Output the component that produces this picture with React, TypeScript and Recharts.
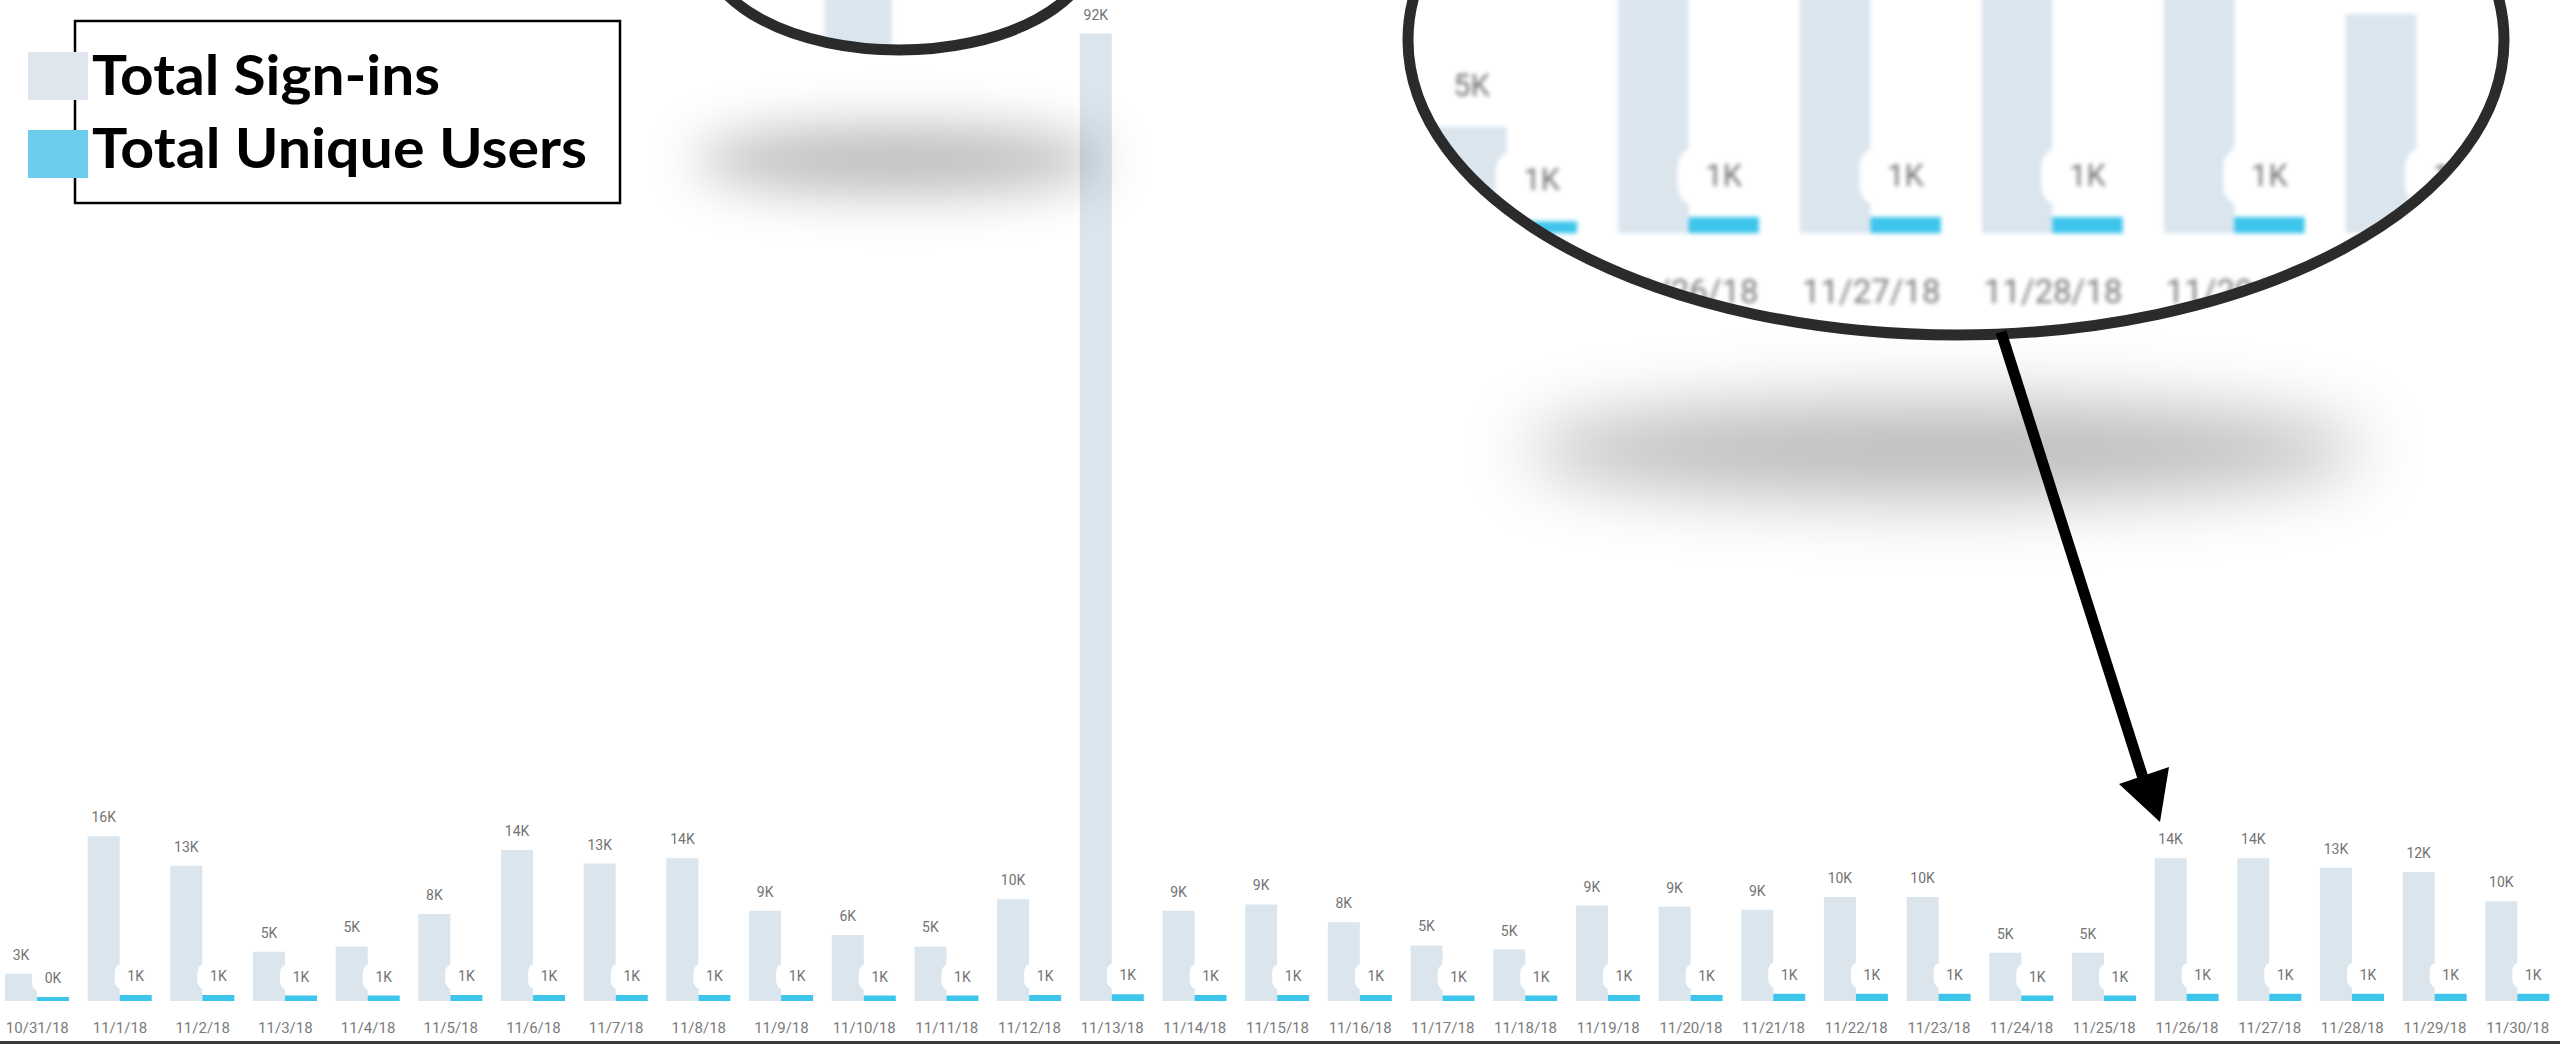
import { BarChart, Bar, XAxis, YAxis, LabelList } from 'recharts';

const dates = [
  '10/31/18', '11/1/18', '11/2/18', '11/3/18', '11/4/18', '11/5/18', '11/6/18', '11/7/18',
  '11/8/18', '11/9/18', '11/10/18', '11/11/18', '11/12/18', '11/13/18', '11/14/18', '11/15/18',
  '11/16/18', '11/17/18', '11/18/18', '11/19/18', '11/20/18', '11/21/18', '11/22/18', '11/23/18',
  '11/24/18', '11/25/18', '11/26/18', '11/27/18', '11/28/18', '11/29/18', '11/30/18',
];

const totalSignIns = [
  2600, 15700, 12900, 4700, 5200, 8300, 14400, 13100,
  13600, 8600, 6300, 5200, 9700, 92200, 8600, 9200,
  7500, 5300, 4900, 9100, 9000, 8700, 9900, 9900,
  4600, 4600, 13600, 13600, 12700, 12300, 9500,
];

const totalUniqueUsers = [
  380, 580, 580, 520, 520, 570, 580, 580,
  580, 570, 520, 520, 580, 640, 580, 570,
  570, 520, 520, 580, 570, 700, 700, 700,
  520, 520, 700, 700, 700, 700, 700,
];

const seriesNames = ['Total Sign-ins', 'Total Unique Users'];

const SIGNIN_COLOR = '#DAE5EE';
const USERS_COLOR = '#3EC5EB';

const chartData = dates.map((date, i) => ({
  date,
  signIns: totalSignIns[i],
  users: totalUniqueUsers[i],
}));

const fmtK = (v: number) => `${Math.round(v / 1000)}K`;

// value label with a white pill behind it
function ValueLabel(props: any) {
  const { x, y, width, value } = props;
  const cx = Number(x) + Number(width) / 2;
  const top = Number(y);
  return (
    <g>
      <rect x={cx - 21} y={top - 32} width={42} height={27} rx={9} fill="#fff" />
      <text
        x={cx}
        y={top - 14}
        textAnchor="middle"
        fontSize={14}
        fontFamily="Roboto, sans-serif"
        fill="#737373"
      >
        {fmtK(Number(value))}
      </text>
    </g>
  );
}

function SignInChart() {
  return (
    <BarChart
      width={2563}
      height={1044}
      data={chartData}
      margin={{ top: 0, right: 0, bottom: 0, left: 0 }}
      barSize={32}
      barGap={0}
    >
      <XAxis
        dataKey="date"
        axisLine={false}
        tickLine={false}
        height={43}
        tickMargin={15}
        interval={0}
        tick={{ fill: '#7b7b7b', fontSize: 15, fontFamily: 'Roboto, sans-serif' }}
      />
      <YAxis hide domain={[0, 95400]} />
      <Bar dataKey="signIns" name={seriesNames[0]} fill={SIGNIN_COLOR} isAnimationActive={false}>
        <LabelList dataKey="signIns" content={ValueLabel} />
      </Bar>
      <Bar dataKey="users" name={seriesNames[1]} fill={USERS_COLOR} isAnimationActive={false}>
        <LabelList dataKey="users" content={ValueLabel} />
      </Bar>
    </BarChart>
  );
}

interface LensProps {
  cx: number;
  cy: number;
  rx: number;
  ry: number;
  zoom: number;
  tx: number;
  ty: number;
}

// magnified copy of the chart, clipped to an ellipse with a dark rim
function Lens({ cx, cy, rx, ry, zoom, tx, ty }: LensProps) {
  const clip = `ellipse(${rx}px ${ry}px at ${cx}px ${cy}px)`;
  return (
    <>
      <div
        style={{
          position: 'absolute',
          left: 0,
          top: 0,
          width: 2560,
          height: 1044,
          clipPath: clip,
          background: '#fff',
        }}
      >
        <div
          style={{
            position: 'absolute',
            left: 0,
            top: 0,
            transformOrigin: '0 0',
            transform: `translate(${tx}px, ${ty}px) scale(${zoom})`,
            filter: 'blur(0.9px)',
          }}
        >
          <div style={{ position: 'absolute', left: -4, top: 0 }}>
            <SignInChart />
          </div>
        </div>
      </div>
      <svg
        width={2560}
        height={1044}
        style={{ position: 'absolute', left: 0, top: 0, filter: 'blur(0.7px)' }}
      >
        <ellipse cx={cx} cy={cy} rx={rx} ry={ry} fill="none" stroke="#2b2b2b" strokeWidth={11} />
      </svg>
    </>
  );
}

function Shadow({ x, y, w, h, blur }: { x: number; y: number; w: number; h: number; blur: number }) {
  return (
    <div
      style={{
        position: 'absolute',
        left: x - w / 2,
        top: y - h / 2,
        width: w,
        height: h,
        borderRadius: '50%',
        background: 'rgba(0,0,0,0.27)',
        filter: `blur(${blur}px)`,
      }}
    />
  );
}

function LegendBox() {
  return (
    <svg width={700} height={230} style={{ position: 'absolute', left: 0, top: 0 }}>
      <rect x={75} y={21} width={545} height={182} fill="#fff" stroke="#000" strokeWidth={2.5} />
      <rect x={28} y={52} width={60} height={48} fill="#DFE6EE" />
      <rect x={28} y={130} width={60} height={48} fill="#6DCDEC" />
      <text
        x={92}
        y={95}
        fontFamily="Lato, 'Open Sans', sans-serif"
        fontWeight={700}
        fontSize={56}
        fill="#000"
        textLength={348}
        lengthAdjust="spacingAndGlyphs"
      >
        {seriesNames[0]}
      </text>
      <text
        x={92}
        y={168}
        fontFamily="Lato, 'Open Sans', sans-serif"
        fontWeight={700}
        fontSize={56}
        fill="#000"
        textLength={495}
        lengthAdjust="spacingAndGlyphs"
      >
        {seriesNames[1]}
      </text>
    </svg>
  );
}

export default function App() {
  return (
    <div
      style={{
        position: 'fixed',
        left: 0,
        top: 0,
        width: 2560,
        height: 1044,
        overflow: 'hidden',
        background: '#fff',
      }}
    >
      <div style={{ position: 'absolute', left: -4, top: 0 }}>
        <SignInChart />
      </div>

      <Shadow x={1945} y={450} w={840} h={96} blur={34} />
      <Shadow x={900} y={160} w={410} h={66} blur={26} />

      <Lens cx={899} cy={-55} rx={195} ry={105} zoom={2.1} tx={-1443} ty={-1050} />
      <Lens cx={1956} cy={40} rx={548} ry={295} zoom={2.2} tx={-3122} ty={-1969} />

      <svg width={2560} height={1044} style={{ position: 'absolute', left: 0, top: 0 }}>
        <line x1={2001} y1={332} x2={2143} y2={778} stroke="#000" strokeWidth={11} />
        <polygon points="2160,822 2119,784 2169,767" fill="#000" />
      </svg>

      <LegendBox />

      <div
        style={{
          position: 'absolute',
          left: 0,
          top: 1041,
          width: 2560,
          height: 3,
          background: '#3a3a3a',
        }}
      />
    </div>
  );
}
